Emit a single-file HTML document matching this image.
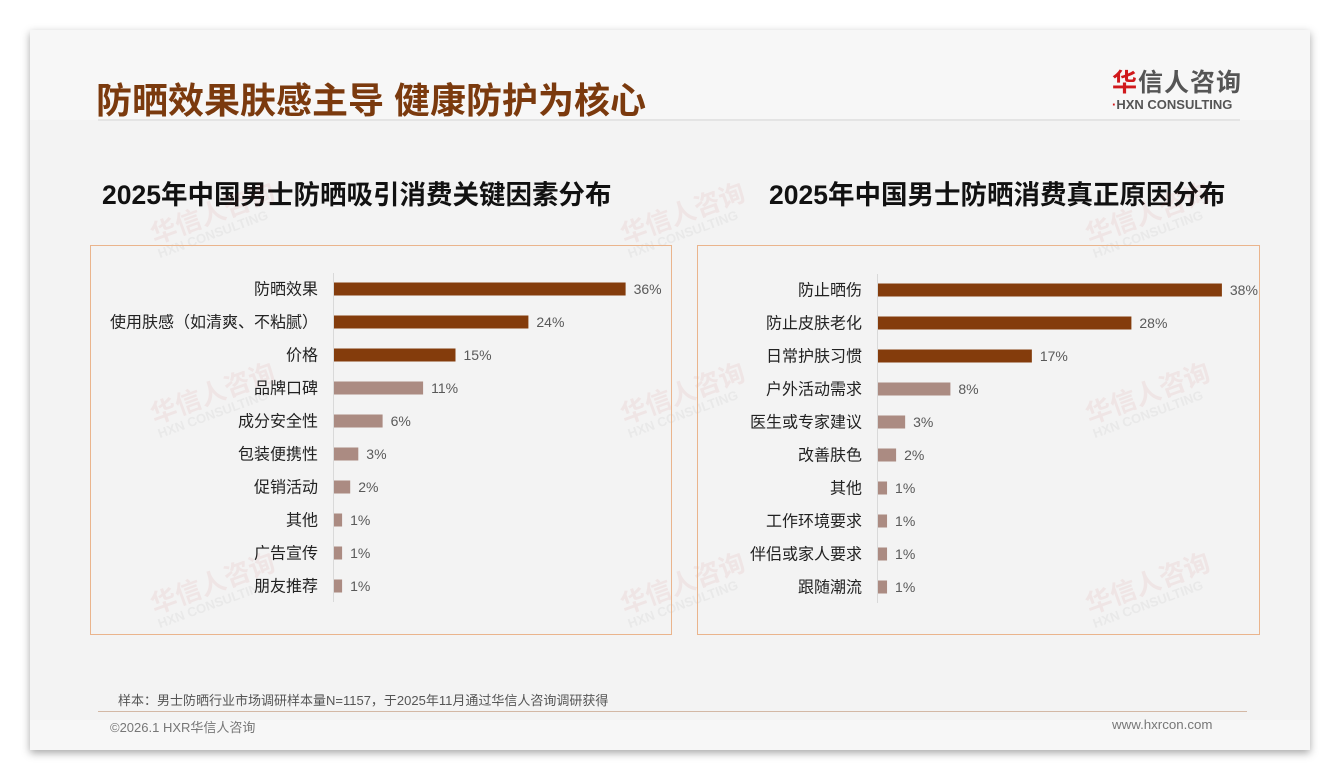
<!DOCTYPE html>
<html><head><meta charset="utf-8">
<style>
body{margin:0;width:1340px;height:780px;background:#fff;position:relative;overflow:hidden;font-family:"Liberation Sans","Noto Sans CJK SC",sans-serif;}
.slide{position:absolute;left:30px;top:30px;width:1280px;height:720px;background:#f3f3f3;box-shadow:0 3px 8px rgba(0,0,0,.35);}
.abs{position:absolute;white-space:nowrap;}
.wm{position:absolute;color:rgba(200,60,60,.07);font-weight:bold;font-size:26px;transform:rotate(-20deg);line-height:1;}
.wm small{display:block;font-size:13px;color:rgba(120,120,120,.08)}
</style></head><body>
<div class="slide">
 <div class="abs" style="left:0;top:0;width:1280px;height:90px;background:#f7f7f7"></div>
 <div class="abs" style="left:0;top:690px;width:1280px;height:30px;background:#f7f7f7"></div>
</div>
<div class="abs" style="left:96px;top:72px;font-size:36px;font-weight:bold;color:#7b3a0e;">防晒效果肤感主导 健康防护为核心</div>
<div class="abs" style="left:1112px;top:63px;">
 <div style="font-size:25px;font-weight:bold;color:#555;letter-spacing:1px"><span style="color:#d0191c">华</span>信人咨询</div>
 <div style="font-size:13px;font-weight:bold;color:#555;margin-top:-2px"><span style="color:#d0191c">·</span>HXN CONSULTING</div>
</div>
<div class="abs" style="left:98px;top:119px;width:1142px;height:2px;background:#e4e4e4"></div>
<div class="abs" style="left:102px;top:173px;font-size:26.5px;font-weight:bold;color:#111">2025年中国男士防晒吸引消费关键因素分布</div>
<div class="abs" style="left:769px;top:173px;font-size:26.5px;font-weight:bold;color:#111">2025年中国男士防晒消费真正原因分布</div>
<div id="wms"></div>
<svg class="abs" style="left:0;top:0" width="1340" height="780" id="chart">
 <rect x="90.5" y="245.5" width="581" height="389" fill="none" stroke="#eab48c"/>
 <rect x="697.5" y="245.5" width="562" height="389" fill="none" stroke="#eab48c"/>
</svg>
<div class="abs" style="left:118px;top:690px;font-size:13px;color:#555">样本：男士防晒行业市场调研样本量N=1157，于2025年11月通过华信人咨询调研获得</div>
<div class="abs" style="left:98px;top:711px;width:1149px;height:1px;background:#d3b8a5"></div>
<div class="abs" style="left:110px;top:717px;font-size:13px;color:#777">©2026.1 HXR华信人咨询</div>
<div class="abs" style="left:1112px;top:717px;font-size:13.3px;color:#777">www.hxrcon.com</div>
<script>
const leftCategories=["防晒效果","使用肤感（如清爽、不粘腻）","价格","品牌口碑","成分安全性","包装便携性","促销活动","其他","广告宣传","朋友推荐"];
const leftValues=[36,24,15,11,6,3,2,1,1,1];
const rightCategories=["防止晒伤","防止皮肤老化","日常护肤习惯","户外活动需求","医生或专家建议","改善肤色","其他","工作环境要求","伴侣或家人要求","跟随潮流"];
const rightValues=[38,28,17,8,3,2,1,1,1,1];
const NS="http://www.w3.org/2000/svg";
const svg=document.getElementById('chart');
function mk(t,a){const e=document.createElementNS(NS,t);for(const k in a)e.setAttribute(k,a[k]);svg.appendChild(e);return e;}
function drawChart(cats,vals,axisX,top,pxPer,prefix){
 const step=33;
 const ax=mk('line',{x1:axisX+0.5,x2:axisX+0.5,y1:top-16,y2:top+step*(cats.length-1)+16,stroke:'#d9d9d9'});
 
 
 cats.forEach((c,i)=>{
  const y=top+i*step;
  const w=vals[i]*pxPer;
  const r=mk('rect',{x:axisX+1,y:y-6.5,width:w,height:13,fill:i<3?'#843c0c':'#ab8b82'});
  
  
  const l=mk('text',{x:axisX-15,y:y+5.5,'text-anchor':'end','font-size':16,fill:'#222'});
  l.textContent=c;
  
  
  const v=mk('text',{x:axisX+1+w+8,y:y+5,'font-size':14,fill:'#595959'});
  v.textContent=vals[i]+'%';
  
  
 });
}
drawChart(leftCategories,leftValues,333,289,8.1,'left');
drawChart(rightCategories,rightValues,877,290,9.05,'right');
const wmPos=[[150,200],[620,200],[1085,200],[150,380],[620,380],[1085,380],[150,570],[620,570],[1085,570]];
const wc=document.getElementById('wms');
wmPos.forEach(p=>{const d=document.createElement('div');d.className='wm';d.style.left=p[0]+'px';d.style.top=p[1]+'px';d.innerHTML='华信人咨询<small>HXN CONSULTING</small>';


wc.appendChild(d);});
</script>
</body></html>
